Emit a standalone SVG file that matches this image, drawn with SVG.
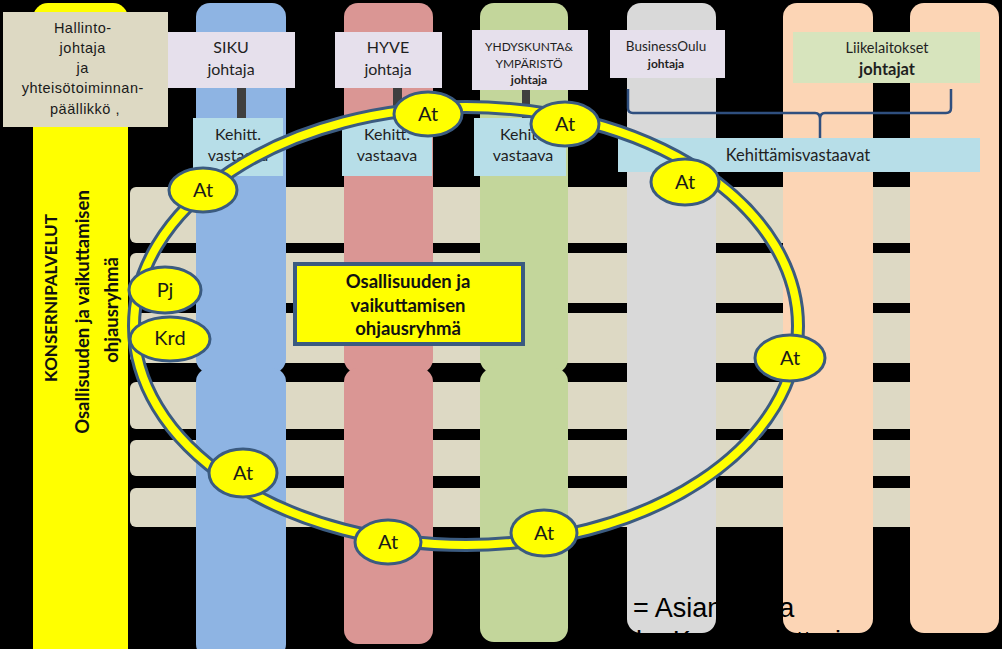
<svg xmlns="http://www.w3.org/2000/svg" width="1002" height="649" viewBox="0 0 1002 649">
<defs>
<style>
.band{fill:#DDD9C4}
.lav{fill:#E6E0EC}
.keh{fill:#B7DEE8}
.t{font-family:Lato,"Noto Sans",sans-serif;fill:#1f1f1f;text-anchor:middle}
.b{font-weight:bold;fill:#111}
.at{fill:#FFFF00;stroke:#3B5B80;stroke-width:3}
.atx{font-family:Lato,"Noto Sans",sans-serif;font-size:20px;fill:#1a1a1a;text-anchor:middle}
.bar{fill:#3F3F3F}
</style>
</defs>
<rect x="0" y="0" width="1002" height="649" fill="#000"/>
<g id="bands">
<rect class="band" x="130" y="187" width="865" height="56" rx="6"/>
<rect class="band" x="130" y="253" width="865" height="50" rx="6"/>
<rect class="band" x="130" y="313" width="865" height="50" rx="6"/>
<rect class="band" x="130" y="382" width="865" height="47" rx="6"/>
<rect class="band" x="130" y="440" width="865" height="36" rx="6"/>
<rect class="band" x="130" y="488" width="865" height="39" rx="6"/>
</g>
<g id="columns">
<rect x="33" y="3" width="95" height="680" rx="15" fill="#FFFF00"/>
<rect x="196" y="3" width="90" height="370" rx="14" fill="#8EB4E3"/>
<rect x="196" y="368" width="90" height="290" rx="14" fill="#8EB4E3"/>
<rect x="344" y="3" width="89" height="370" rx="14" fill="#DA9694"/>
<rect x="344" y="368" width="89" height="276" rx="14" fill="#DA9694"/>
<rect x="480" y="3" width="88" height="370" rx="14" fill="#C3D69B"/>
<rect x="480" y="368" width="88" height="274" rx="14" fill="#C3D69B"/>
<rect x="627" y="3" width="89" height="630" rx="14" fill="#D9D9D9"/>
<rect x="783" y="3" width="90" height="630" rx="14" fill="#FCD5B5"/>
<rect x="910" y="3" width="89" height="630" rx="14" fill="#FCD5B5"/>
</g>
<g id="konsernipalvelut">
<text class="t b" font-size="17" transform="translate(57,298) rotate(-90)">KONSERNIPALVELUT</text>
<text class="t b" font-size="18.5" transform="translate(89,312) rotate(-90)">Osallisuuden ja vaikuttamisen</text>
<text class="t b" font-size="18.5" transform="translate(118,310) rotate(-90)">ohjausryhmä</text>
</g>
<g id="hallinto">
<rect x="3" y="12" width="165" height="115" fill="#DDD9C3"/>
<text font-family="'Liberation Sans',Arial,sans-serif" font-size="14.5" letter-spacing="0.5" fill="#1a1a1a" text-anchor="middle">
<tspan x="85" y="33">Hallinto-</tspan>
<tspan x="85" y="53">johtaja</tspan>
<tspan x="85" y="73">ja</tspan>
<tspan x="85" y="93">yhteisötoiminnan-</tspan>
<tspan x="85" y="114">päällikkö ,</tspan>
</text>
</g>
<g id="connectors">
<rect class="bar" x="237" y="88" width="9" height="30"/>
<rect class="bar" x="393" y="88" width="9" height="30"/>
<rect class="bar" x="522" y="90" width="8" height="28"/>
<path d="M628,89 L628,108 Q628,113 633,113 L815,113 Q820,113 820,119 L820,138 M820,119 Q820,113 825,113 L946,113 Q951,113 951,108 L951,89" fill="none" stroke="#2F4F7F" stroke-width="2.5"/>
</g>
<g id="siku">
<rect class="lav" x="168" y="32" width="127" height="56"/>
<text class="t" font-size="16"><tspan x="231" y="53">SIKU</tspan><tspan x="231" y="75">johtaja</tspan></text>
</g>
<g id="hyve">
<rect class="lav" x="335" y="32" width="107" height="56"/>
<text class="t" font-size="16"><tspan x="388" y="53">HYVE</tspan><tspan x="388" y="75">johtaja</tspan></text>
</g>
<g id="yhdyskunta">
<rect class="lav" x="472" y="30" width="116" height="60"/>
<text class="t" font-size="12"><tspan x="529" y="51">YHDYSKUNTA&amp;</tspan><tspan x="529" y="68">YMPÄRISTÖ</tspan><tspan x="529" y="84" font-weight="bold">johtaja</tspan></text>
</g>
<g id="businessoulu">
<rect class="lav" x="610" y="30" width="115" height="48"/>
<text class="t" font-size="13.5"><tspan x="666" y="51">BusinessOulu</tspan><tspan x="666" y="68" font-size="12" font-weight="bold">johtaja</tspan></text>
</g>
<g id="liikelaitokset">
<rect x="793" y="32" width="187" height="51" fill="#D7E4BD"/>
<text class="t" font-size="14.5"><tspan x="887" y="53">Liikelaitokset</tspan><tspan x="887" y="75" font-size="16.5" font-weight="bold">johtajat</tspan></text>
</g>
<g id="kehitt1">
<rect class="keh" x="193" y="118" width="90" height="58"/>
<text class="t" font-size="16"><tspan x="238" y="140">Kehitt.</tspan><tspan x="238" y="161">vastaava</tspan></text>
</g>
<g id="kehitt2">
<rect class="keh" x="342" y="118" width="90" height="58"/>
<text class="t" font-size="16"><tspan x="387" y="140">Kehitt.</tspan><tspan x="387" y="161">vastaava</tspan></text>
</g>
<g id="kehitt3">
<rect class="keh" x="474" y="118" width="92" height="58"/>
<text class="t" font-size="16"><tspan x="523" y="140">Kehitt.</tspan><tspan x="523" y="161">vastaava</tspan></text>
</g>
<g id="kehittamisvastaavat">
<rect class="keh" x="618" y="138" width="362" height="34"/>
<text class="t" font-size="16.5" x="798" y="161">Kehittämisvastaavat</text>
</g>
<g id="ring">
<ellipse cx="466" cy="326" rx="332" ry="219" fill="none" stroke="#3B5B80" stroke-width="14"/>
<ellipse cx="466" cy="326" rx="332" ry="219" fill="none" stroke="#FFFF00" stroke-width="8"/>
</g>
<g id="ohjausryhma">
<rect x="295" y="264" width="228" height="80" fill="#FFFF00" stroke="#3B5B80" stroke-width="4"/>
<text class="t b" font-size="18.5"><tspan x="408" y="288">Osallisuuden ja</tspan><tspan x="408" y="312">vaikuttamisen</tspan><tspan x="408" y="335">ohjausryhmä</tspan></text>
</g>
<g id="at1"><ellipse class="at" cx="428" cy="114" rx="34" ry="22"/><text class="atx" x="428" y="121">At</text></g>
<g id="at2"><ellipse class="at" cx="565" cy="124" rx="34" ry="22"/><text class="atx" x="565" y="131">At</text></g>
<g id="at3"><ellipse class="at" cx="685" cy="182" rx="34" ry="23"/><text class="atx" x="685" y="189">At</text></g>
<g id="at4"><ellipse class="at" cx="790" cy="358" rx="35" ry="23"/><text class="atx" x="790" y="365">At</text></g>
<g id="at5"><ellipse class="at" cx="544" cy="533" rx="33" ry="23"/><text class="atx" x="544" y="540">At</text></g>
<g id="at6"><ellipse class="at" cx="388" cy="542" rx="33" ry="22"/><text class="atx" x="388" y="549">At</text></g>
<g id="at7"><ellipse class="at" cx="243" cy="473" rx="34" ry="24"/><text class="atx" x="243" y="480">At</text></g>
<g id="at8"><ellipse class="at" cx="203" cy="190" rx="34" ry="22"/><text class="atx" x="203" y="197">At</text></g>
<g id="pj"><ellipse class="at" cx="165" cy="290" rx="36" ry="23"/><text class="atx" x="165" y="297">Pj</text></g>
<g id="krd"><ellipse class="at" cx="170" cy="339" rx="40" ry="22"/><text class="atx" font-size="16" x="170" y="345">Krd</text></g>
<g id="legend">
<text font-family="'Liberation Sans',Arial,sans-serif" font-size="27" fill="#000"><tspan x="600" y="617">At = Asiantuntija</tspan><tspan x="600" y="650">Krd = Koordinaattori</tspan></text>
</g>
</svg>
